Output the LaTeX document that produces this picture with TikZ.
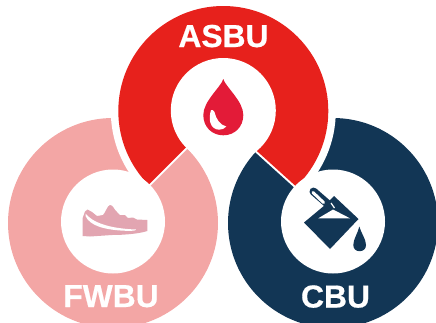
\documentclass[tikz,border=0pt]{standalone}
\usepackage{fontspec}
\setmainfont[BoldFeatures={FakeBold=0.6}]{Liberation Sans}
\definecolor{redbu}{HTML}{E7211C}
\definecolor{pinkbu}{HTML}{F3A6A5}
\definecolor{navybu}{HTML}{123655}
\definecolor{dropred}{HTML}{E31B38}
\definecolor{shoepink}{HTML}{E2A5B1}
\tikzset{
  lab/.style={text=white,font=\bfseries\fontsize{31.8}{32}\selectfont,anchor=base,inner sep=0pt},
  hole/.style={fill=white},
  keepregion/.style={insert path={(217.7,115.6) -- (97.7,235.6) -- (0,235.6) -- (0,0) -- (436,0) -- (436,233.1) -- (347.7,233.1) -- cycle}}
}
\begin{document}
\begin{tikzpicture}[x=1pt,y=-1pt]
\useasboundingbox (0,0) rectangle (436,322);
\clip (0,0) rectangle (436,322);
% lower discs
\fill[pinkbu] (113,223) circle[radius=105];
\fill[navybu] (333,223) circle[radius=105];
% white halo of the red ring
\begin{scope}
  \clip (223.3,111) circle[radius=112.5];
  \fill[white,keepregion];
  \draw[white,line width=4pt] (217.7,115.6) -- (97.7,235.6);
  \draw[white,line width=4pt] (217.7,115.6) -- (347.7,233.1);
\end{scope}
% red ring
\begin{scope}
  \clip[keepregion];
  \fill[redbu] (223.3,111) circle[radius=105];
\end{scope}
% holes
\fill[hole] (223.3,110.5) circle[radius=52.5];
\fill[hole] (113,221.5) circle[radius=52];
\fill[hole] (333,221.5) circle[radius=52];
% blood drop
\fill[dropred] (223.3,79) .. controls (221,87) and (203.3,101) .. (203.3,115)
  .. controls (203.3,127) and (212,135.3) .. (223.3,135.3)
  .. controls (234.6,135.3) and (243.3,127) .. (243.3,115)
  .. controls (243.3,101) and (225.6,87) .. (223.3,79) -- cycle;
\fill[white] (211,110) .. controls (209.5,115) and (209.5,119) .. (210.3,122.5)
  .. controls (211.5,127) and (215,129.7) .. (219,129.7)
  .. controls (222,129.7) and (225,128.5) .. (226.3,126.5)
  .. controls (220,125) and (216,119) .. (214.5,112) .. controls (214,110.5) and (212,109.5) .. (211,110) -- cycle;
% shoe
\fill[shoepink] (82.7,236) -- (82.7,218) -- (85,211.5) -- (87.5,209.5) -- (92,212) -- (97,216) -- (103,215)
  .. controls (106,212) and (107,206) .. (110,205) .. controls (113.5,205) and (114,210) .. (117,212)
  -- (120,215) -- (125,215) -- (128,218) -- (133,217.5) -- (137,219.5) -- (147.3,220) -- (147.3,231)
  .. controls (140,233.5) and (125,235) .. (112,235) -- (90,236.5) -- cycle;
\fill[white] (85.5,213.5) .. controls (92,222) and (108,228.5) .. (136,229.5)
  .. controls (136,230.5) and (134,231) .. (126,230.8)
  .. controls (105,230) and (90,226) .. (85.5,216) -- cycle;
% paint bucket
\fill[navybu,line join=round] (304,222.5) -- (325,205) -- (334,196) -- (358.5,219) -- (330,249) -- cycle;
\fill[white] (318.3,218.3) -- (333,209.5) -- (350,218.3) -- cycle;
\draw[navybu,line width=8pt,line cap=round] (313.5,191.5) -- (329,205);
\draw[white,line width=3pt,line cap=round] (313,192.5) -- (323.5,202.5);
\draw[white,line width=1.2pt] (331,203) -- (334.5,208);
\fill[navybu] (359.3,226.5) .. controls (358,233) and (353.3,239) .. (353.3,245)
  .. controls (353.3,249) and (356,251.2) .. (359.6,251.2)
  .. controls (363.2,251.2) and (366,249) .. (366,245)
  .. controls (366,239) and (361,233) .. (359.3,226.5) -- cycle;
% labels
\node[lab] (asbu) at (223.5,47) {ASBU};
\node[lab] (fwbu) at (111,307) {FWBU};
\node[lab] (cbu) at (335.5,307.5) {CBU};
\end{tikzpicture}
\end{document}
